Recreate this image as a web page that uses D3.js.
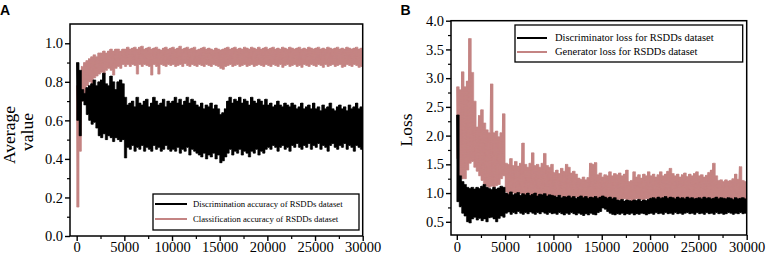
<!DOCTYPE html>
<html>
<head>
<meta charset="utf-8">
<script src="https://cdn.jsdelivr.net/npm/d3@7"></script>
<style>
body { margin: 0; background: #fff; }
svg { display: block; }
text { font-family: "Liberation Serif", "Times New Roman", serif; }
</style>
</head>
<body>
<div id="chart"></div>
<script>
// two panels: (A) accuracy curves, (B) GAN losses, RSDDs dataset
// each series is kept as an upper / lower envelope sampled every 250 iterations

const iters = d3.range(0, 30001, 250);

// A - classification accuracy (pink)
const clsHi = [
  0.78,0.85,0.88,0.90,0.91,0.92,0.93,0.94,0.93,0.95,0.95,0.96,0.95,0.96,0.97,0.96,0.97,0.97,0.96,0.97,
  0.97,0.98,0.97,0.975,0.98,0.97,0.98,0.985,0.97,0.975,0.98,0.97,0.975,0.98,0.97,0.965,0.975,0.98,0.97,0.975,
  0.98,0.97,0.975,0.985,0.97,0.975,0.98,0.97,0.975,0.98,0.965,0.97,0.975,0.98,0.97,0.975,0.97,0.965,0.975,0.97,
  0.965,0.97,0.975,0.98,0.97,0.975,0.98,0.97,0.975,0.97,0.98,0.975,0.97,0.98,0.975,0.97,0.98,0.97,0.975,0.98,
  0.97,0.975,0.98,0.97,0.975,0.97,0.98,0.975,0.97,0.98,0.975,0.97,0.975,0.98,0.97,0.975,0.97,0.98,0.975,0.97,
  0.975,0.98,0.97,0.975,0.97,0.98,0.975,0.97,0.975,0.98,0.97,0.975,0.97,0.98,0.975,0.97,0.975,0.98,0.97,0.975,0.98
];
const clsLo = [
  0.15,0.44,0.70,0.74,0.78,0.80,0.79,0.82,0.83,0.84,0.85,0.84,0.86,0.87,0.86,0.835,0.87,0.88,0.87,0.89,
  0.88,0.89,0.88,0.89,0.885,0.84,0.89,0.88,0.89,0.885,0.88,0.835,0.89,0.88,0.84,0.89,0.885,0.88,0.89,0.885,
  0.89,0.88,0.885,0.89,0.88,0.895,0.885,0.88,0.89,0.885,0.88,0.89,0.885,0.88,0.89,0.885,0.88,0.89,0.885,0.88,
  0.87,0.865,0.88,0.885,0.89,0.88,0.885,0.89,0.88,0.885,0.89,0.88,0.885,0.89,0.88,0.885,0.89,0.885,0.88,0.89,
  0.885,0.88,0.89,0.885,0.88,0.89,0.875,0.885,0.89,0.88,0.885,0.89,0.88,0.885,0.875,0.89,0.885,0.88,0.89,0.885,
  0.88,0.89,0.885,0.875,0.89,0.88,0.885,0.89,0.88,0.885,0.89,0.875,0.88,0.89,0.885,0.88,0.89,0.885,0.875,0.88,0.885
];

// A - discrimination accuracy (black)
const discHi = [
  0.90,0.86,0.76,0.74,0.77,0.78,0.79,0.81,0.78,0.80,0.81,0.845,0.79,0.78,0.83,0.80,0.76,0.80,0.81,0.79,
  0.72,0.68,0.69,0.70,0.67,0.72,0.69,0.68,0.70,0.71,0.67,0.69,0.72,0.70,0.68,0.69,0.71,0.67,0.70,0.69,
  0.70,0.72,0.69,0.71,0.68,0.70,0.72,0.69,0.71,0.70,0.68,0.67,0.69,0.66,0.68,0.67,0.69,0.66,0.68,0.66,
  0.63,0.64,0.66,0.70,0.72,0.69,0.71,0.70,0.72,0.69,0.71,0.70,0.68,0.72,0.70,0.69,0.71,0.70,0.68,0.71,
  0.68,0.69,0.67,0.68,0.70,0.68,0.67,0.69,0.68,0.67,0.69,0.68,0.66,0.67,0.69,0.66,0.67,0.68,0.66,0.69,
  0.66,0.67,0.65,0.68,0.66,0.67,0.69,0.66,0.65,0.67,0.68,0.66,0.67,0.65,0.68,0.66,0.67,0.69,0.66,0.67,0.65
];
const discLo = [
  0.60,0.52,0.70,0.68,0.63,0.60,0.58,0.59,0.56,0.52,0.51,0.53,0.50,0.52,0.51,0.49,0.51,0.50,0.49,0.50,
  0.405,0.46,0.45,0.47,0.44,0.46,0.45,0.47,0.44,0.46,0.45,0.44,0.47,0.45,0.46,0.44,0.45,0.47,0.45,0.44,
  0.45,0.44,0.46,0.43,0.45,0.44,0.46,0.42,0.45,0.44,0.43,0.42,0.41,0.43,0.40,0.42,0.41,0.43,0.40,0.42,
  0.38,0.39,0.41,0.43,0.45,0.42,0.44,0.43,0.45,0.42,0.44,0.43,0.41,0.44,0.43,0.45,0.42,0.44,0.43,0.45,
  0.46,0.45,0.47,0.46,0.44,0.46,0.47,0.45,0.46,0.44,0.47,0.46,0.48,0.46,0.45,0.47,0.46,0.48,0.45,0.47,
  0.46,0.48,0.45,0.47,0.46,0.44,0.47,0.48,0.46,0.45,0.47,0.46,0.48,0.45,0.47,0.46,0.44,0.47,0.46,0.45,0.40
];

// B - generator loss (pink)
const genHi = [
  2.85,2.80,3.11,2.85,2.95,3.69,3.10,2.60,2.15,2.35,2.45,2.22,2.10,2.05,2.90,2.05,2.08,1.98,2.05,2.38,
  1.52,1.50,1.60,1.48,1.55,1.47,1.52,1.87,1.50,1.45,1.52,1.70,1.48,1.50,1.45,1.52,1.69,1.48,1.45,1.50,
  1.36,1.40,1.34,1.43,1.38,1.50,1.45,1.35,1.38,1.33,1.26,1.24,1.28,1.23,1.27,1.52,1.50,1.53,1.32,1.35,
  1.28,1.32,1.30,1.37,1.30,1.34,1.32,1.35,1.30,1.33,1.40,1.20,1.22,1.37,1.28,1.32,1.26,1.33,1.30,1.37,
  1.30,1.33,1.28,1.32,1.37,1.30,1.33,1.38,1.43,1.34,1.30,1.33,1.28,1.32,1.35,1.29,1.33,1.30,1.34,1.37,
  1.30,1.32,1.28,1.31,1.36,1.40,1.52,1.30,1.22,1.23,1.20,1.23,1.21,1.22,1.25,1.33,1.24,1.46,1.22,1.20,1.21
];
const genLo = [
  1.60,1.30,1.25,1.25,1.40,1.52,1.55,1.45,1.38,1.30,1.22,1.15,1.12,1.10,1.12,1.10,1.13,1.15,1.25,1.30,
  1.02,0.98,0.96,1.00,0.97,0.95,0.99,0.96,0.94,0.98,0.96,0.95,0.97,0.94,0.96,0.98,0.95,0.93,0.96,0.94,
  0.93,0.95,0.92,0.94,0.91,0.93,0.95,0.92,0.90,0.93,0.91,0.89,0.92,0.90,0.88,0.91,0.90,0.92,0.89,0.91,
  0.90,0.92,0.89,0.91,0.88,0.90,0.87,0.89,0.88,0.90,0.87,0.89,0.86,0.88,0.90,0.87,0.89,0.88,0.90,0.89,
  0.91,0.89,0.90,0.88,0.91,0.89,0.90,0.88,0.91,0.89,0.90,0.92,0.89,0.90,0.88,0.91,0.89,0.90,0.88,0.90,
  0.89,0.91,0.88,0.90,0.89,0.91,0.88,0.90,0.89,0.87,0.90,0.88,0.89,0.91,0.88,0.90,0.89,0.87,0.90,0.88,0.89
];

// B - discriminator loss (black)
const dLossHi = [
  2.36,1.30,1.20,1.15,1.10,1.08,1.10,1.07,1.10,1.08,1.12,1.15,1.10,1.08,1.06,1.10,1.07,1.09,1.12,1.10,
  1.00,0.98,1.02,0.97,0.99,1.01,0.96,0.99,0.97,1.00,0.96,0.98,1.00,0.95,0.98,0.97,0.99,0.95,0.97,0.96,
  0.95,0.93,0.96,0.92,0.94,0.93,0.95,0.92,0.94,0.91,0.93,0.95,0.92,0.94,0.91,0.93,0.92,0.94,0.91,0.93,
  0.95,0.93,0.91,0.93,0.90,0.92,0.88,0.87,0.89,0.86,0.88,0.87,0.86,0.88,0.87,0.89,0.86,0.88,0.87,0.89,
  0.91,0.92,0.90,0.93,0.91,0.92,0.94,0.91,0.93,0.92,0.90,0.93,0.91,0.92,0.90,0.93,0.91,0.92,0.90,0.91,
  0.92,0.90,0.93,0.91,0.92,0.90,0.91,0.93,0.90,0.92,0.91,0.90,0.92,0.91,0.89,0.92,0.90,0.91,0.92,0.90,0.91
];
const dLossLo = [
  0.85,0.76,0.65,0.60,0.50,0.48,0.55,0.58,0.53,0.56,0.52,0.55,0.50,0.57,0.58,0.55,0.50,0.56,0.60,0.58,
  0.65,0.67,0.63,0.66,0.64,0.68,0.65,0.63,0.66,0.64,0.67,0.65,0.63,0.66,0.64,0.67,0.65,0.63,0.66,0.64,
  0.65,0.63,0.66,0.64,0.62,0.65,0.63,0.66,0.64,0.62,0.65,0.63,0.61,0.64,0.62,0.65,0.63,0.62,0.66,0.68,
  0.74,0.72,0.68,0.65,0.63,0.62,0.64,0.63,0.65,0.62,0.64,0.63,0.65,0.62,0.64,0.63,0.65,0.64,0.62,0.64,
  0.65,0.63,0.66,0.64,0.65,0.63,0.66,0.64,0.65,0.63,0.66,0.64,0.65,0.63,0.65,0.66,0.64,0.65,0.63,0.66,
  0.64,0.65,0.63,0.66,0.64,0.65,0.63,0.66,0.64,0.65,0.63,0.64,0.66,0.65,0.63,0.65,0.64,0.66,0.64,0.65,0.63
];

const xTicks = [0, 5000, 10000, 15000, 20000, 25000, 30000];
const xMinor = [2500, 7500, 12500, 17500, 22500, 27500];
const accTicks = [0.0, 0.2, 0.4, 0.6, 0.8, 1.0];
const accMinor = [0.1, 0.3, 0.5, 0.7, 0.9];
const lossTicks = [0.5, 1.0, 1.5, 2.0, 2.5, 3.0, 3.5, 4.0];
const lossMinor = [0.75, 1.25, 1.75, 2.25, 2.75, 3.25, 3.75];

const pink = "#c48483";

const svg = d3.select("#chart").append("svg")
    .attr("width", 767)
    .attr("height", 257);

svg.append("rect").attr("width", 767).attr("height", 257).attr("fill", "#fff");

function drawPanel(cfg) {
    const x = d3.scaleLinear().domain(cfg.xDomain).range([cfg.left, cfg.right]);
    const y = d3.scaleLinear().domain(cfg.yDomain).range([cfg.bottom, cfg.top]);

    svg.append("clipPath").attr("id", "clip" + cfg.id)
        .append("rect")
        .attr("x", cfg.left).attr("y", cfg.top)
        .attr("width", cfg.right - cfg.left).attr("height", cfg.bottom - cfg.top);

    const line = d3.line().x(d => x(d[0])).y(d => y(d[1]));
    const band = d3.area().curve(d3.curveStepAfter)
        .x((d, k) => x(iters[k]))
        .y0(d => y(d[0]))
        .y1(d => y(d[1]));

    // dense noisy line: a stepped band between the envelopes plus a zigzag on top
    cfg.series.forEach(function(s) {
        const pairs = iters.map((it, k) => [s.lo[k], s.hi[k]]);
        svg.append("path")
            .attr("clip-path", `url(#clip${cfg.id})`)
            .attr("d", band(pairs))
            .attr("fill", s.color)
            .attr("stroke", s.color)
            .attr("stroke-width", 0.6);

        let pts = [];
        iters.forEach(function(it, k) {
            pts.push([it, s.hi[k]]);
            pts.push([it + 125, s.lo[k]]);
        });
        svg.append("path")
            .attr("clip-path", `url(#clip${cfg.id})`)
            .attr("d", line(pts))
            .attr("fill", "none")
            .attr("stroke", s.color)
            .attr("stroke-width", 1);
    });

    // x axis
    const gx = svg.append("g").attr("transform", `translate(0,${cfg.bottom})`)
        .call(d3.axisBottom(x).tickValues(xTicks).tickSize(5).tickFormat(d3.format("d")));
    gx.select(".domain").remove();
    gx.selectAll("line").attr("stroke-width", 1.4);
    gx.selectAll("text").attr("dy", null).attr("y", 252 - cfg.bottom)
        .attr("font-size", "14.5px").attr("font-family", null);
    const gxm = svg.append("g").attr("transform", `translate(0,${cfg.bottom})`)
        .call(d3.axisBottom(x).tickValues(xMinor).tickSize(3).tickFormat(""));
    gxm.select(".domain").remove();
    gxm.selectAll("line").attr("stroke-width", 1.2);

    // y axis
    const gy = svg.append("g").attr("transform", `translate(${cfg.left},0)`)
        .call(d3.axisLeft(y).tickValues(cfg.yTicks).tickSize(5).tickPadding(2).tickFormat(d3.format(".1f")));
    gy.select(".domain").remove();
    gy.selectAll("line").attr("stroke-width", 1.4);
    gy.selectAll("text").attr("font-size", "14.5px");
    const gym = svg.append("g").attr("transform", `translate(${cfg.left},0)`)
        .call(d3.axisLeft(y).tickValues(cfg.yMinor).tickSize(3).tickFormat(""));
    gym.select(".domain").remove();
    gym.selectAll("line").attr("stroke-width", 1.2);

    // frame
    svg.append("rect")
        .attr("x", cfg.left).attr("y", cfg.top)
        .attr("width", cfg.right - cfg.left).attr("height", cfg.bottom - cfg.top)
        .attr("fill", "none").attr("stroke", "#000").attr("stroke-width", 1.5);

    // legend
    const lg = cfg.legend;
    svg.append("rect")
        .attr("x", lg.x).attr("y", lg.y).attr("width", lg.w).attr("height", lg.h)
        .attr("fill", "#fff").attr("stroke", "#000").attr("stroke-width", 1.3);
    lg.items.forEach(function(item, i) {
        const yy = lg.y + lg.first + i * lg.step;
        svg.append("line")
            .attr("x1", lg.x + 2).attr("x2", lg.x + 2 + lg.len)
            .attr("y1", yy).attr("y2", yy)
            .attr("stroke", item.color).attr("stroke-width", 2);
        svg.append("text")
            .attr("x", lg.x + lg.textX).attr("y", yy + lg.fs * 0.33)
            .attr("font-size", lg.fs + "px")
            .text(item.label);
    });

    // panel letter
    svg.append("text")
        .attr("x", cfg.letterX).attr("y", 14.5)
        .style("font-family", "'Liberation Sans', Arial, sans-serif")
        .style("font-weight", "bold").style("font-size", "14px")
        .text(cfg.letter);
}

drawPanel({
    id: "A", letter: "A", letterX: 0,
    left: 70, right: 362.7, top: 24, bottom: 236,
    xDomain: [-700, 30000], yDomain: [0, 1.1],
    yTicks: accTicks, yMinor: accMinor,
    series: [
        { hi: clsHi, lo: clsLo, color: pink },
        { hi: discHi, lo: discLo, color: "#000" }
    ],
    legend: {
        x: 153, y: 194, w: 206, h: 36, first: 10, step: 15, len: 32, textX: 40, fs: 8.7,
        items: [
            { label: "Discrimination accuracy of RSDDs dataset", color: "#000" },
            { label: "Classification accuracy of RSDDs dataset", color: pink }
        ]
    }
});

drawPanel({
    id: "B", letter: "B", letterX: 400.5,
    left: 451, right: 746.7, top: 20.7, bottom: 235,
    xDomain: [-600, 30000], yDomain: [0.27, 4.0],
    yTicks: lossTicks, yMinor: lossMinor,
    series: [
        { hi: genHi, lo: genLo, color: pink },
        { hi: dLossHi, lo: dLossLo, color: "#000" }
    ],
    legend: {
        x: 515, y: 25, w: 227.7, h: 37, first: 13, step: 14, len: 30, textX: 40, fs: 10.5,
        items: [
            { label: "Discriminator loss for RSDDs dataset", color: "#000" },
            { label: "Generator loss for RSDDs dataset", color: pink }
        ]
    }
});

// axis titles
svg.append("text")
    .attr("transform", "translate(15,135) rotate(-90)")
    .attr("text-anchor", "middle").attr("font-size", "17.5px")
    .text("Average");
svg.append("text")
    .attr("transform", "translate(33,132) rotate(-90)")
    .attr("text-anchor", "middle").attr("font-size", "17.5px")
    .text("value");
svg.append("text")
    .attr("transform", "translate(412,130) rotate(-90)")
    .attr("text-anchor", "middle").attr("font-size", "17.5px")
    .text("Loss");
</script>
</body>
</html>
